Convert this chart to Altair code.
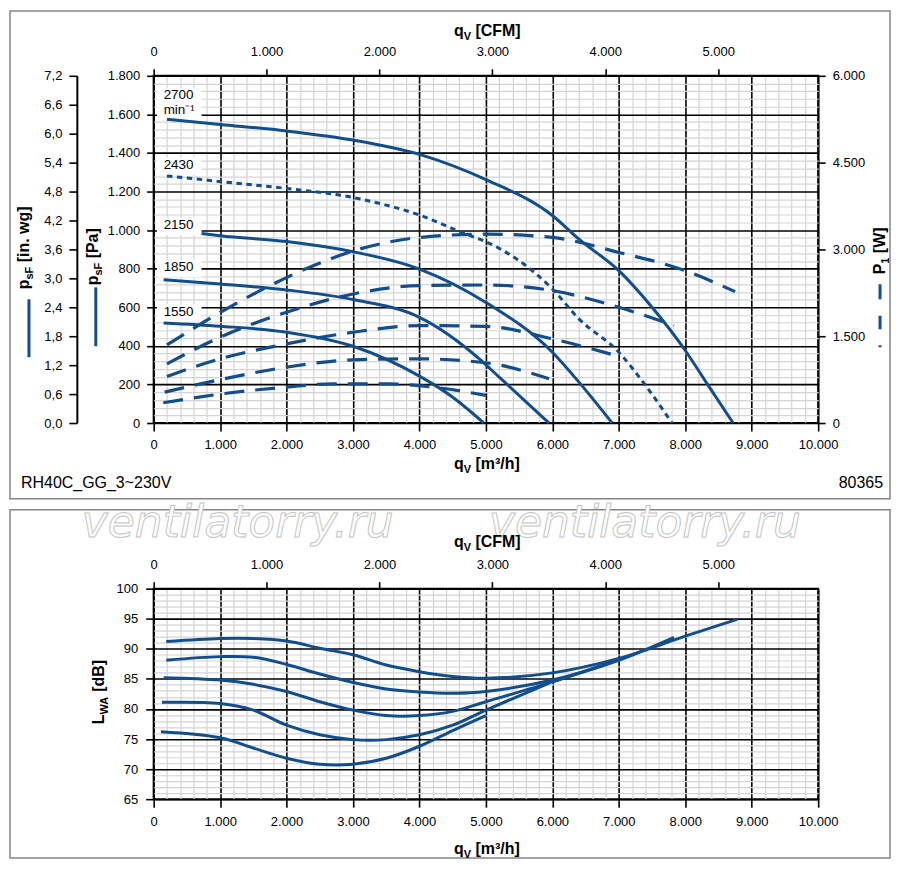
import altair as alt
import pandas as pd

FONT = "Liberation Sans"
BLUE = "#134e8c"
MINOR = "#d4d4d4"

# ---------------- data ----------------
speeds = [2700, 2430, 2150, 1850, 1550]

# static pressure p_sF [Pa] vs q_V [m3/h]
p2700_q = [200, 1000, 2000, 3000, 4000, 5000, 6000, 6400, 7000, 7500, 8000, 8330, 8720]
p2700_pa = [1575, 1548, 1514, 1467, 1393, 1262, 1076, 953, 790, 600, 376, 203, 0]
p2430_q = [200, 1000, 2000, 3000, 4000, 4700, 5000, 6000, 6400, 7000, 7400, 7800]
p2430_pa = [1281, 1252, 1216, 1169, 1078, 979, 940, 695, 540, 367, 196, 0]
p2150_q = [720, 1000, 2000, 3000, 4000, 5000, 6000, 6400, 6900]
p2150_pa = [983, 971, 941, 888, 798, 625, 367, 212, 0]
p1850_q = [150, 1000, 2000, 3000, 4000, 4900, 5200, 5950]
p1850_pa = [743, 721, 690, 640, 548, 333, 238, 0]
p1550_q = [150, 1000, 2000, 3000, 4000, 4500, 4970]
p1550_pa = [519, 502, 471, 398, 243, 134, 0]

# power input P1 [W]
w2700_q = [200, 1050, 1700, 2400, 3100, 4000, 5000, 6000, 7000, 8000, 8750]
w2700_w = [1350, 1943, 2345, 2718, 3006, 3207, 3264, 3207, 2948, 2633, 2270]
w2430_q = [200, 1000, 2000, 3000, 4000, 5000, 6000, 7000, 7830]
w2430_w = [1023, 1483, 1914, 2230, 2374, 2385, 2288, 2000, 1684]
w2150_q = [200, 1000, 2000, 3000, 4000, 5000, 6000, 6950]
w2150_w = [805, 1109, 1368, 1569, 1684, 1670, 1454, 1167]
w1850_q = [165, 1000, 2000, 3000, 4000, 5000, 5950]
w1850_w = [534, 750, 966, 1092, 1109, 1040, 764]
w1550_q = [145, 1000, 2000, 2700, 3500, 4200, 5000]
w1550_w = [350, 500, 621, 678, 678, 621, 477]

# sound power L_WA [dB]
n2700_q = [190, 1000, 1500, 2000, 2500, 3000, 3500, 4000, 4500, 5000, 6000, 7000, 8000, 8780]
n2700_db = [91.2, 91.7, 91.7, 91.3, 90.1, 89.0, 87.3, 86.2, 85.4, 85.1, 86.0, 88.4, 92.1, 94.9]
n2430_q = [190, 1000, 1500, 2000, 2500, 3000, 3500, 4000, 4500, 5000, 6000, 7000, 7830]
n2430_db = [88.1, 88.7, 88.6, 87.4, 85.8, 84.4, 83.3, 82.8, 82.6, 82.9, 84.8, 88.1, 91.9]
n2150_q = [150, 1000, 1500, 2000, 2500, 3000, 3500, 4000, 4500, 5000, 6000, 6900]
n2150_db = [85.2, 84.8, 84.1, 82.9, 81.2, 79.8, 78.9, 78.9, 79.6, 81.2, 84.5, 87.8]
n1850_q = [125, 1000, 1500, 2000, 2500, 3000, 3500, 4000, 4500, 5000, 5950]
n1850_db = [81.1, 80.9, 79.8, 77.3, 75.7, 74.9, 74.9, 75.7, 77.3, 79.8, 84.3]
n1550_q = [110, 1000, 1500, 2000, 2500, 3000, 3500, 4000, 4500, 5000]
n1550_db = [76.2, 75.2, 73.5, 71.8, 70.8, 70.8, 71.8, 73.8, 76.4, 78.9]

# curve labels (position in data units)
lbl_text = ["2700", "min⁻¹", "2430", "2150", "1850", "1550"]
lbl_q = [150, 150, 150, 150, 150, 150]
lbl_pa = [1678, 1600, 1316, 1005, 786, 554]

# axis ticks
x_ticks = [0, 1000, 2000, 3000, 4000, 5000, 6000, 7000, 8000, 9000, 10000]
cfm_ticks = [0, 1000, 2000, 3000, 4000, 5000]
pa_ticks = [0, 200, 400, 600, 800, 1000, 1200, 1400, 1600, 1800]
inwg_ticks = [0.0, 0.6, 1.2, 1.8, 2.4, 3.0, 3.6, 4.2, 4.8, 5.4, 6.0, 6.6, 7.2]
w_ticks = [0, 1500, 3000, 4500, 6000]
db_ticks = [65, 70, 75, 80, 85, 90, 95, 100]
x_minor = [v for v in range(200, 10000, 200) if v % 1000]
pa_minor = [v for v in range(40, 1800, 40) if v % 200]
db_minor = [v for v in range(66, 100) if v % 5]


def frame(series, col):
    rows = []
    for spd, qs, vs in series:
        for q, v in zip(qs, vs):
            rows.append({"speed": spd, "q": q, col: v})
    return pd.DataFrame(rows)


press = frame([(2700, p2700_q, p2700_pa), (2430, p2430_q, p2430_pa), (2150, p2150_q, p2150_pa),
               (1850, p1850_q, p1850_pa), (1550, p1550_q, p1550_pa)], "pa")
power = frame([(2700, w2700_q, w2700_w), (2430, w2430_q, w2430_w), (2150, w2150_q, w2150_w),
               (1850, w1850_q, w1850_w), (1550, w1550_q, w1550_w)], "w")
noise = frame([(2700, n2700_q, n2700_db), (2430, n2430_q, n2430_db), (2150, n2150_q, n2150_db),
               (1850, n1850_q, n1850_db), (1550, n1550_q, n1550_db)], "db")
labels = pd.DataFrame({"t": lbl_text, "q": lbl_q, "pa": lbl_pa})
labels["q0"] = 50
labels["q1"] = 720
labels["lo"] = labels["pa"] - 30
labels["hi"] = labels["pa"] + 60
ONE = pd.DataFrame({"k": [0]})

W, H1, H2 = 666, 348, 211

XS = alt.Scale(domain=[0, 10000], nice=False, zero=False)
CFMS = alt.Scale(domain=[0, 10000 / 1.699], nice=False, zero=False)
PS = alt.Scale(domain=[0, 1800], nice=False, zero=False)
INS = alt.Scale(domain=[0, 7.2], nice=False, zero=False)
WS = alt.Scale(domain=[0, 6000], nice=False, zero=False)
DBS = alt.Scale(domain=[65, 100], nice=False, zero=False)

DOT_EXPR = "replace(format(datum.value, ','), ',', '.')"
COMMA_EXPR = "replace(format(datum.value, '.1f'), '.', ',')"


def minor_axis(values, orient):
    return alt.Axis(values=values, orient=orient, grid=True, gridColor=MINOR, gridWidth=1.2,
                    labels=False, ticks=False, domain=False, title=None)


def main_axis(values, orient, expr=None, tick=8, pad=8, grid=True, offset=0, domain=False):
    kw = dict(values=values, orient=orient, grid=grid, gridColor="black", gridWidth=1.6,
              ticks=True, tickSize=tick, tickColor="black", tickWidth=1.6,
              labelPadding=pad, domain=domain, domainColor="black", domainWidth=2,
              title=None, labelFont=FONT, labelFontSize=13, labelColor="black",
              labelFlush=False, labelOverlap=False, offset=offset)
    if expr:
        kw["labelExpr"] = expr
    return alt.Axis(**kw)


BOLD = {" ": .278, "[": .333, "]": .333, ".": .278, "/": .278, "1": .556, "³": .333,
        "A": .722, "B": .722, "C": .722, "F": .611, "L": .611, "M": .833, "P": .667,
        "V": .667, "W": .944, "a": .556, "d": .611, "g": .611, "h": .611, "i": .278,
        "m": .889, "n": .611, "p": .611, "q": .611, "s": .556, "w": .778}


def tw(s, size):
    return sum(BOLD.get(c, .6) for c in s) * size


def rich_title(pieces, x0, y0, vertical=False):
    out = []
    pos = 0.0
    for txt, size, dy in pieces:
        lead = len(txt) - len(txt.lstrip(" "))
        pos += lead * BOLD[" "] * size
        body = txt.lstrip(" ")
        if vertical:
            x, y, ang = x0, y0 - pos, 270
        else:
            x, y, ang = x0 + pos, y0, 0
        out.append(alt.Chart(ONE).mark_text(
            text=body, font=FONT, fontSize=size, fontWeight="bold", align="left",
            baseline="alphabetic", angle=ang, dy=dy, color="black"
        ).encode(x=alt.value(x), y=alt.value(y)))
        pos += tw(body, size)
    return out


def plain_text(txt, x, y, align="left", size=16):
    return alt.Chart(ONE).mark_text(text=txt, font=FONT, fontSize=size, align=align,
                                    baseline="alphabetic", color="black").encode(
        x=alt.value(x), y=alt.value(y))


def box(x0, x1, y0, y1):
    return alt.Chart(ONE).mark_rect(fillOpacity=0, stroke="#858585", strokeWidth=1.5).encode(
        x=alt.value(x0), x2=alt.value(x1), y=alt.value(y0), y2=alt.value(y1))


def qv(x0, y0, unit):
    return rich_title([("q", 16, 0), ("V", 11, 4), (" " + unit, 16, 0)], x0, y0)


# ---------------- top panel ----------------
t_minor = alt.Chart(press).mark_line(opacity=0).encode(
    x=alt.X("q:Q", scale=XS, axis=minor_axis(x_minor, "bottom")),
    y=alt.Y("pa:Q", scale=PS, axis=minor_axis(pa_minor, "left")),
    detail="speed:N")

t_boxes = alt.Chart(labels).mark_rect(color="white").encode(
    x=alt.X("q0:Q", scale=XS, axis=None), x2="q1:Q",
    y=alt.Y("lo:Q", scale=PS, axis=None), y2="hi:Q")

t_press = alt.Chart(press).transform_filter("datum.speed != 2430").mark_line(
    color=BLUE, strokeWidth=3, interpolate="monotone").encode(
    x=alt.X("q:Q", scale=XS, axis=main_axis(x_ticks, "bottom", DOT_EXPR, tick=8, pad=8)),
    y=alt.Y("pa:Q", scale=PS, axis=main_axis(pa_ticks, "left", DOT_EXPR, tick=7, pad=7)),
    detail="speed:N")

t_press_dot = alt.Chart(press).transform_filter("datum.speed == 2430").mark_line(
    color=BLUE, strokeWidth=3, interpolate="monotone", strokeDash=[5.5, 4.5]).encode(
    x=alt.X("q:Q", scale=XS, axis=None),
    y=alt.Y("pa:Q", scale=PS, axis=None),
    detail="speed:N")

t_power = alt.Chart(power).mark_line(
    color=BLUE, strokeWidth=3.2, interpolate="monotone", strokeDash=[20, 11]).encode(
    x=alt.X("q:Q", scale=XS, axis=None),
    y=alt.Y("w:Q", scale=WS, axis=main_axis(w_ticks, "right", DOT_EXPR, tick=7, pad=7, grid=False)),
    detail="speed:N")

t_inwg = alt.Chart(pd.DataFrame({"v": inwg_ticks})).mark_point(opacity=0).encode(
    y=alt.Y("v:Q", scale=INS, axis=main_axis(inwg_ticks, "left", COMMA_EXPR, tick=8, pad=7,
                                              grid=False, offset=77, domain=True)))

t_cfm = alt.Chart(pd.DataFrame({"v": cfm_ticks})).mark_point(opacity=0).encode(
    x=alt.X("v:Q", scale=CFMS, axis=main_axis(cfm_ticks, "top", DOT_EXPR, tick=7, pad=10, grid=False)))

t_lbl = alt.Chart(labels).mark_text(font=FONT, fontSize=13.5, align="left",
                                     baseline="alphabetic", color="black").encode(
    x=alt.X("q:Q", scale=XS, axis=None), y=alt.Y("pa:Q", scale=PS, axis=None), text="t:N")

top_layers = [t_minor, t_boxes, t_press, t_press_dot, t_power, t_inwg, t_cfm, t_lbl]
top_layers += qv(301, -40, "[CFM]")
top_layers += qv(301, 394, "[m³/h]")
top_layers += rich_title([("p", 16, 0), ("sF", 11, 4), (" [in. wg]", 16, 0)], -125, 214, vertical=True)
top_layers += rich_title([("p", 16, 0), ("sF", 11, 4), (" [Pa]", 16, 0)], -56, 210, vertical=True)
top_layers += rich_title([("P", 16, 0), ("1", 11, 4), (" [W]", 16, 0)], 733, 199, vertical=True)
top_layers += [
    alt.Chart(ONE).mark_rule(color=BLUE, strokeWidth=3).encode(
        x=alt.value(-125), y=alt.value(224), y2=alt.value(282)),
    alt.Chart(ONE).mark_rule(color=BLUE, strokeWidth=3).encode(
        x=alt.value(-58), y=alt.value(212), y2=alt.value(271)),
    alt.Chart(ONE).mark_rule(color=BLUE, strokeWidth=3, strokeCap="butt",
                             strokeDash=[15, 16.5, 13.5, 16, 2.5, 40]).encode(
        x=alt.value(728), y=alt.value(209), y2=alt.value(272)),
    plain_text("RH40C_GG_3~230V", -133, 413),
    plain_text("80365", 731, 413, align="right"),
    box(-144, 738, -65, 424),
]

top = alt.layer(*top_layers).resolve_scale(x="independent", y="independent").resolve_axis(
    x="independent", y="independent").properties(width=W, height=H1)

# ---------------- bottom panel ----------------
b_minor = alt.Chart(noise).mark_line(opacity=0).encode(
    x=alt.X("q:Q", scale=XS, axis=minor_axis(x_minor, "bottom")),
    y=alt.Y("db:Q", scale=DBS, axis=minor_axis(db_minor, "left")),
    detail="speed:N")

b_noise = alt.Chart(noise).mark_line(color=BLUE, strokeWidth=3, interpolate="catmull-rom").encode(
    x=alt.X("q:Q", scale=XS, axis=main_axis(x_ticks, "bottom", DOT_EXPR, tick=8, pad=8)),
    y=alt.Y("db:Q", scale=DBS, axis=main_axis(db_ticks, "left", None, tick=8, pad=8)),
    detail="speed:N")

b_cfm = alt.Chart(pd.DataFrame({"v": cfm_ticks})).mark_point(opacity=0).encode(
    x=alt.X("v:Q", scale=CFMS, axis=main_axis(cfm_ticks, "top", DOT_EXPR, tick=7, pad=10, grid=False)))

bot_layers = [b_minor, b_noise, b_cfm]
bot_layers += [box(-144, 738, -79, 270)]
for wx in (-72, 336):
    bot_layers.append(alt.Chart(ONE).mark_text(
        text="ventilatorry.ru", font="DejaVu Sans", fontStyle="italic", fontSize=44,
        align="left", baseline="alphabetic", fill="white", stroke="#c4c4c4", strokeWidth=1
    ).encode(x=alt.value(wx), y=alt.value(-52)))
bot_layers += qv(301, -42, "[CFM]")
bot_layers += qv(301, 266, "[m³/h]")
bot_layers += rich_title([("L", 16, 0), ("WA", 11, 4), (" [dB]", 16, 0)], -50, 136, vertical=True)

bottom = alt.layer(*bot_layers).resolve_scale(x="independent", y="independent").resolve_axis(
    x="independent", y="independent").properties(width=W, height=H2)

chart = alt.vconcat(top, bottom, spacing=166, bounds="flush").properties(
    padding={"left": 0, "top": 0, "right": 0, "bottom": 0}, background="white",
    autosize=alt.AutoSizeParams(type="pad")
).configure_view(stroke="black", strokeWidth=2)

chart.save("out.html", embed_options={"renderer": "svg", "actions": False})
